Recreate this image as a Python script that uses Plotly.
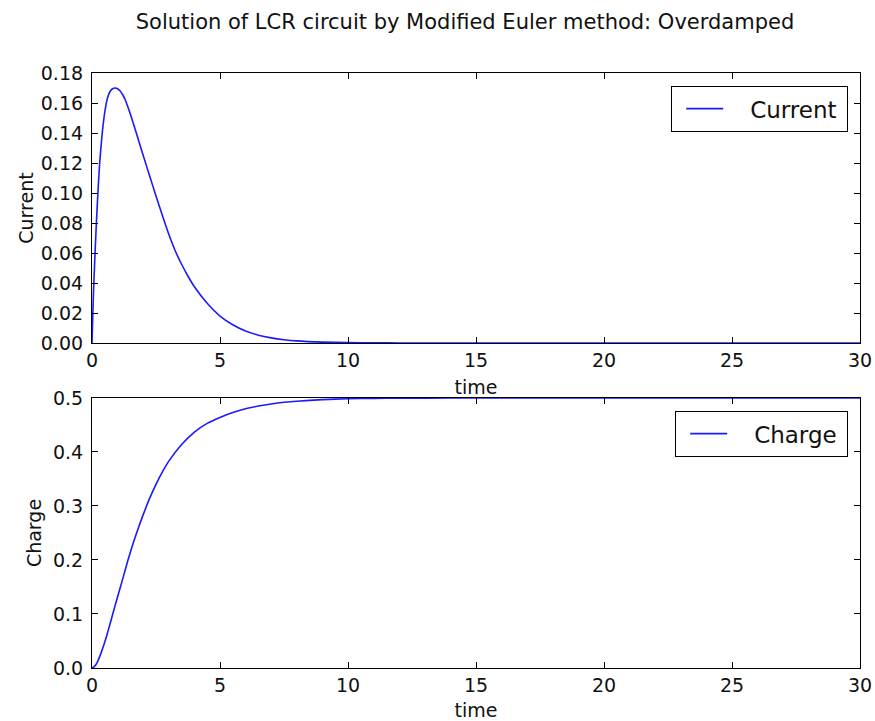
import plotly.graph_objects as go
from plotly.subplots import make_subplots

# ---- data ----
time_current = [0, 0.05, 0.1, 0.15, 0.2, 0.25, 0.3, 0.4, 0.5, 0.6, 0.7, 0.8, 0.9, 1.0, 1.1, 1.2, 1.3, 1.4,
                1.5, 1.75, 2.0, 2.25, 2.5, 2.75, 3.0, 3.25, 3.5, 3.75, 4.0, 4.5, 5.0, 5.5, 6.0, 6.5, 7.0,
                7.5, 8.0, 9.0, 10.0, 11.0, 12.0, 14.0, 16.0, 20.0, 25.0, 30.0]
current = [0.0, 0.030, 0.052, 0.072, 0.090, 0.106, 0.120, 0.140, 0.154, 0.163, 0.1675, 0.1695, 0.170, 0.1695,
           0.168, 0.1655, 0.162, 0.1575, 0.1525, 0.139, 0.125, 0.1115, 0.098, 0.085, 0.0725, 0.0615, 0.0525,
           0.0445, 0.0375, 0.0265, 0.0180, 0.0122, 0.0080, 0.0052, 0.0034, 0.0022, 0.0014, 0.0006, 0.00025,
           0.0001, 0.00004, 0.00001, 0.0, 0.0, 0.0, 0.0]

time_charge = [0, 0.1, 0.2, 0.3, 0.4, 0.5, 0.6, 0.7, 0.8, 0.9, 1.0, 1.2, 1.4, 1.6, 1.8, 2.0, 2.25, 2.5, 2.75,
               3.0, 3.5, 4.0, 4.5, 5.0, 5.5, 6.0, 6.5, 7.0, 7.5, 8.0, 9.0, 10.0, 11.0, 12.0, 14.0, 16.0,
               20.0, 25.0, 30.0]
charge = [0.0, 0.003, 0.010, 0.021, 0.034, 0.048, 0.064, 0.081, 0.098, 0.115, 0.132, 0.165, 0.199, 0.230,
          0.258, 0.284, 0.314, 0.340, 0.363, 0.383, 0.414, 0.437, 0.453, 0.464, 0.473, 0.480, 0.485, 0.489,
          0.492, 0.494, 0.497, 0.4985, 0.4993, 0.4997, 0.4999, 0.5, 0.5, 0.5, 0.5]

x_ticks = [0, 5, 10, 15, 20, 25, 30]
title_text = "Solution of LCR circuit by Modified Euler method: Overdamped"

FONT = "DejaVu Sans"
BLUE = "#1a1aff"
TXT = "#111"
PAD_L = "\u00a0\u00a0\u00a0"
PAD_R = "\u2009"

fig = make_subplots(rows=2, cols=1, vertical_spacing=0.0924)

fig.add_trace(go.Scatter(x=time_current, y=current, mode="lines", name=PAD_L + "Current" + PAD_R,
                         line=dict(color=BLUE, width=1.6, shape="spline", smoothing=0.5),
                         legend="legend"), row=1, col=1)
fig.add_trace(go.Scatter(x=time_charge, y=charge, mode="lines", name=PAD_L + "Charge" + PAD_R,
                         line=dict(color=BLUE, width=1.6, shape="spline", smoothing=0.5),
                         legend="legend2"), row=2, col=1)

axis_common = dict(showline=True, linecolor="black", linewidth=1.2, mirror="allticks",
                   ticks="inside", ticklen=6, tickcolor="black", showgrid=False, zeroline=False,
                   automargin=False, tickfont=dict(family=FONT, size=19, color=TXT))

fig.update_xaxes(range=[0, 30], tickvals=x_ticks, **axis_common)
fig.update_xaxes(title=dict(text="time", font=dict(family=FONT, size=19, color=TXT), standoff=10), row=1, col=1)
fig.update_xaxes(title=dict(text="time", font=dict(family=FONT, size=19, color=TXT), standoff=10), row=2, col=1)

fig.update_yaxes(range=[0, 0.18], dtick=0.02, tick0=0, tickformat=".2f", ticklabelstandoff=4,
                 title=dict(text="Current", font=dict(family=FONT, size=19, color=TXT), standoff=2),
                 row=1, col=1, **axis_common)
fig.update_yaxes(range=[0, 0.5], dtick=0.1, tick0=0, tickformat=".1f", ticklabelstandoff=4,
                 title=dict(text="Charge", font=dict(family=FONT, size=19, color=TXT), standoff=6),
                 row=2, col=1, **axis_common)

legend_common = dict(xanchor="right", yanchor="top", bordercolor="black", borderwidth=1.2,
                     bgcolor="white", font=dict(family=FONT, size=23, color=TXT),
                     itemwidth=37, indentation=9)

fig.update_layout(
    width=875, height=721,
    margin=dict(l=92, r=15, t=73, b=53),
    paper_bgcolor="white", plot_bgcolor="white",
    title=dict(text=title_text, x=465 / 875, xanchor="center", y=1 - 22 / 721, yanchor="middle",
               font=dict(family=FONT, size=21, color=TXT)),
    legend=dict(x=(848 - 92) / 768, y=(668 - 86) / 595, **legend_common),
    legend2=dict(x=(848 - 92) / 768, y=(668 - 411) / 595, **legend_common),
    showlegend=True,
)
fig.update_yaxes(domain=[0.5462, 1.0], row=1, col=1)
fig.update_yaxes(domain=[0.0, 0.4538], row=2, col=1)

fig.write_html("out.html")
